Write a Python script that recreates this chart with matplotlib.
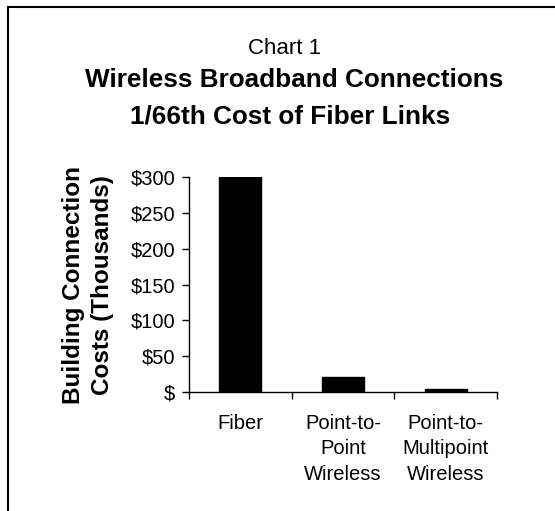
import matplotlib.pyplot as plt
from matplotlib.lines import Line2D
from matplotlib.ticker import FuncFormatter

plt.rcParams['font.family'] = ['Liberation Sans', 'DejaVu Sans']

# Cost per building connection, thousands of dollars
categories = ['Fiber', 'Point-to-\nPoint\nWireless', 'Point-to-\nMultipoint\nWireless']
costs = [300, 21, 4.5]
y_ticks = [0, 50, 100, 150, 200, 250, 300]


def dollar(v, pos):
    return '$' if v == 0 else f'${v:.0f}'


fig = plt.figure(figsize=(5.55, 5.11), dpi=100)
fig.patch.set_facecolor('white')

# chart frame (left and top edges)
fig.add_artist(Line2D([8 / 555, 8 / 555], [0, 1 - 7 / 511], color='black', lw=1.5))
fig.add_artist(Line2D([8 / 555, 1], [1 - 7 / 511, 1 - 7 / 511], color='black', lw=1.5))

ax = fig.add_axes([189 / 555, 1 - 392 / 511, 308 / 555, 215 / 511])

x = range(len(categories))
ax.bar(x, costs, width=0.41, color='black', edgecolor='black', linewidth=1)

ax.set_xlim(-0.5, len(categories) - 0.5)
ax.set_ylim(0, 300)
ax.set_yticks(y_ticks)
ax.yaxis.set_major_formatter(FuncFormatter(dollar))
ax.tick_params(axis='y', length=5, width=1, labelsize=14.5, pad=5)

# category labels between boundary ticks
ax.set_xticks(list(x))
ax.set_xticklabels(categories, linespacing=1.45)
ax.set_xticks([-0.5, 0.5, 1.5, 2.5], minor=True)
ax.tick_params(axis='x', which='major', length=0, labelsize=14.5, pad=15.5)
ax.tick_params(axis='x', which='minor', length=5, width=1)

for side in ['top', 'right']:
    ax.spines[side].set_visible(False)
for side in ['left', 'bottom']:
    ax.spines[side].set_linewidth(1)

fig.text(0.512, 1 - 54 / 511, 'Chart 1', ha='center', va='baseline', fontsize=16)
fig.text(0.53, 1 - 87 / 511, 'Wireless Broadband Connections', ha='center',
         va='baseline', fontsize=18.8, fontweight='bold')
fig.text(0.523, 1 - 124 / 511, '1/66th Cost of Fiber Links', ha='center',
         va='baseline', fontsize=18.8, fontweight='bold')

fig.text(88 / 555, 1 - 285 / 511, 'Building Connection\nCosts (Thousands)',
         rotation=90, ha='center', va='center', multialignment='center',
         fontsize=17.5, fontweight='bold', linespacing=1.3)

fig.savefig('out.png', dpi=100)
